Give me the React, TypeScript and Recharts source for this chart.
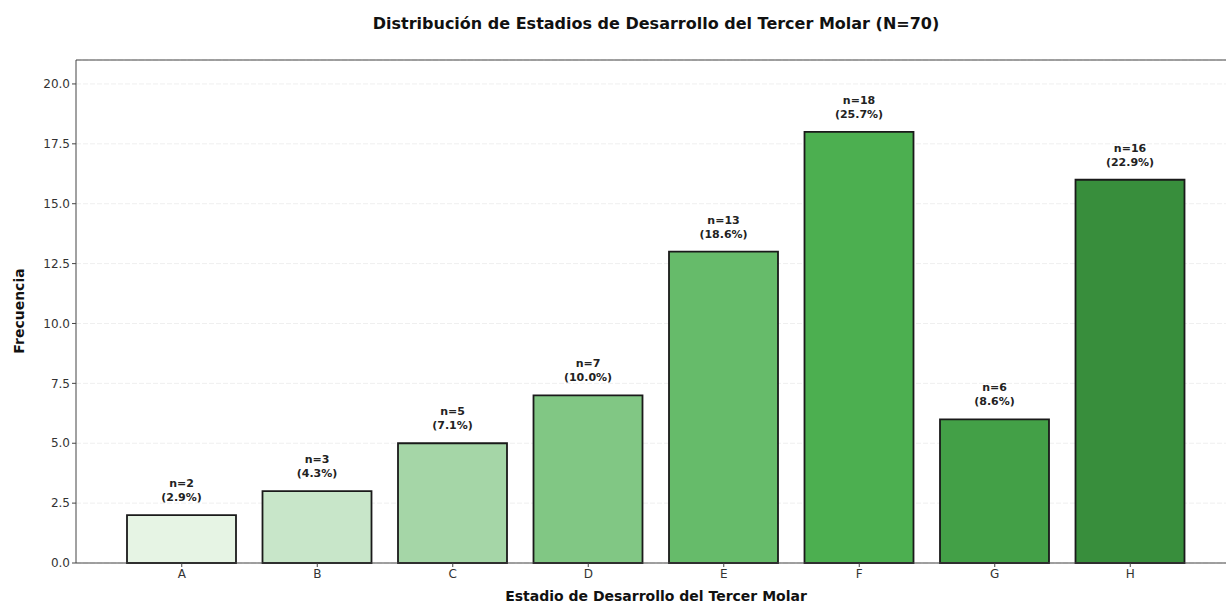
import { BarChart, Bar, XAxis, YAxis, Cell, CartesianGrid, LabelList, ReferenceLine } from 'recharts'

const STAGES = ['A', 'B', 'C', 'D', 'E', 'F', 'G', 'H']
const COUNTS = [2, 3, 5, 7, 13, 18, 6, 16]
const COLORS = ['#e6f4e4', '#c8e6c9', '#a5d6a7', '#81c784', '#66bb6a', '#4caf50', '#43a047', '#388e3c']
const Y_TICKS = [0, 2.5, 5, 7.5, 10, 12.5, 15, 17.5, 20]
const TOTAL = 70

const data = STAGES.map((s, i) => ({ stage: s, count: COUNTS[i] }))

const FONT = '"DejaVu Sans", Verdana, sans-serif'

function BarLabel({ x, y, width, value }: any) {
  const cx = x + width / 2
  const pct = ((value / TOTAL) * 100).toFixed(1)
  return (
    <text x={cx} y={y - 28} textAnchor="middle" fontFamily={FONT} fontSize={11} fontWeight="bold" fill="#222">
      <tspan x={cx} dy={0}>n={value}</tspan>
      <tspan x={cx} dy={14}>({pct}%)</tspan>
    </text>
  )
}

export default function App() {
  return (
    <div style={{ position: 'absolute', left: 0, top: 0, width: 1226, height: 608, overflow: 'hidden', background: '#fff', fontFamily: FONT }}>
      <div style={{ position: 'absolute', top: 14, left: 0, width: 1312, textAlign: 'center', fontSize: 16, fontWeight: 'bold', color: '#111' }}>
        Distribución de Estadios de Desarrollo del Tercer Molar (N=70)
      </div>
      <div style={{ position: 'absolute', top: 588, left: 76, width: 1160, textAlign: 'center', fontSize: 14, fontWeight: 'bold', color: '#111' }}>
        Estadio de Desarrollo del Tercer Molar
      </div>
      <div style={{ position: 'absolute', left: 19, top: 311, transform: 'translate(-50%, -50%) rotate(-90deg)', fontSize: 14, fontWeight: 'bold', color: '#111', whiteSpace: 'nowrap' }}>
        Frecuencia
      </div>
      <BarChart width={1240} height={608} data={data} margin={{ top: 60, right: 4, bottom: 0, left: 0 }}>
        <CartesianGrid vertical={false} stroke="#efefef" strokeDasharray="5 2" />
        <XAxis
          dataKey="stage"
          height={45}
          padding={{ left: 38, right: 38 }}
          tick={{ fill: '#333', fontSize: 12, fontFamily: FONT }}
          tickSize={4}
          tickLine={{ stroke: '#444' }}
          axisLine={{ stroke: '#444' }}
        />
        <YAxis
          width={76}
          domain={[0, 21]}
          ticks={Y_TICKS}
          tickFormatter={(v: number) => v.toFixed(1)}
          tick={{ fill: '#333', fontSize: 12, fontFamily: FONT }}
          tickSize={4}
          tickLine={{ stroke: '#444' }}
          axisLine={{ stroke: '#444' }}
        />
        <ReferenceLine y={21} stroke="#444" />
        <Bar dataKey="count" barSize={109} stroke="#1a1a1a" strokeWidth={1.8} isAnimationActive={false}>
          {data.map((d, i) => <Cell key={d.stage} fill={COLORS[i]} />)}
          <LabelList dataKey="count" content={<BarLabel />} />
        </Bar>
      </BarChart>
    </div>
  )
}
